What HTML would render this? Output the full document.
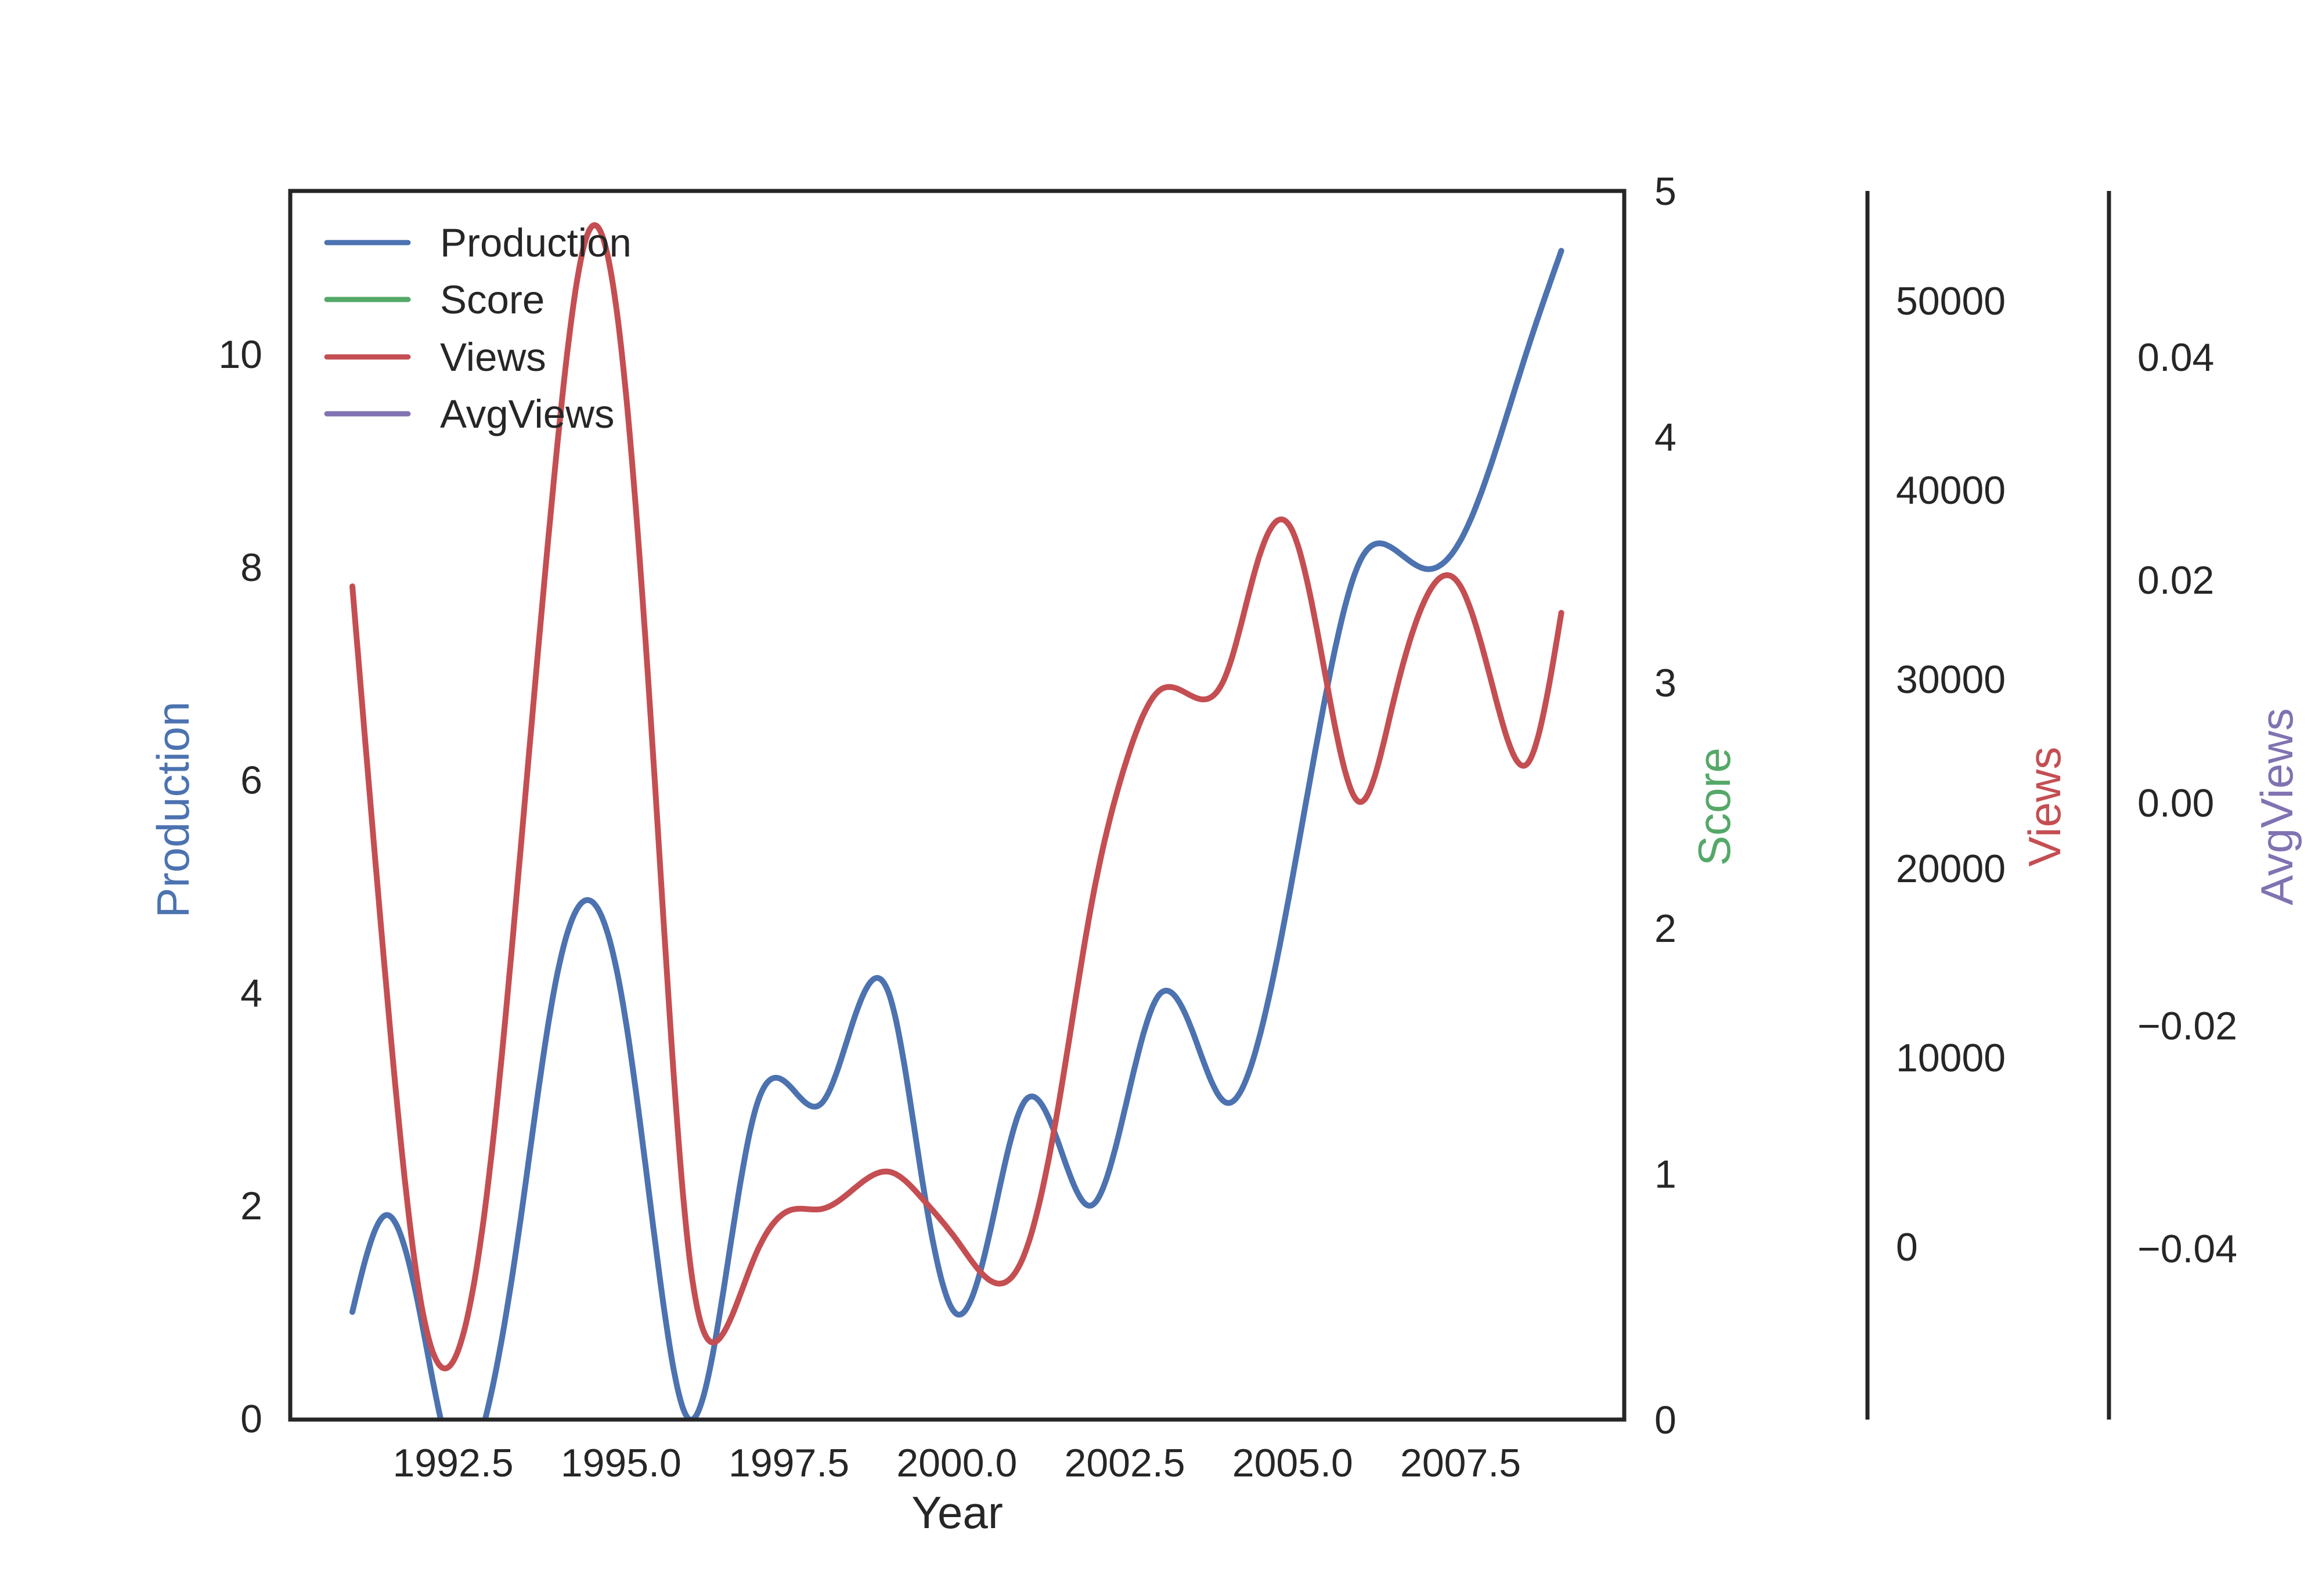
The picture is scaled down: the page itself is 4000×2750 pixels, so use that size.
<!DOCTYPE html>
<html><head><meta charset="utf-8"><style>
html,body{margin:0;padding:0;background:#fff}
svg{display:block}
text{font-family:"Liberation Sans",sans-serif;fill:#262626}
</style></head><body>
<svg id="chart" width="4000" height="2750" viewBox="0 0 4000 2750" xmlns="http://www.w3.org/2000/svg">
<defs><clipPath id="plotclip"><rect x="500" y="329" width="2298" height="2117"/></clipPath></defs>
<g id="lines" clip-path="url(#plotclip)"></g>
<rect x="500" y="329" width="2298" height="2117" fill="none" stroke="#262626" stroke-width="7"/>
<line x1="3217" y1="329" x2="3217" y2="2446" stroke="#262626" stroke-width="7"/>
<line x1="3633" y1="329" x2="3633" y2="2446" stroke="#262626" stroke-width="7"/>
<g id="ticks"></g>
<text x="1649" y="2633" font-size="78" text-anchor="middle">Year</text>
<text transform="translate(325,1395) rotate(-90)" font-size="78" text-anchor="middle" style="fill:#4C72B0">Production</text>
<text transform="translate(2980,1390) rotate(-90)" font-size="78" text-anchor="middle" style="fill:#55A868">Score</text>
<text transform="translate(3549,1390) rotate(-90)" font-size="78" text-anchor="middle" style="fill:#C44E52">Views</text>
<text transform="translate(3949,1390) rotate(-90)" font-size="78" text-anchor="middle" style="fill:#8172B2">AvgViews</text>
<g>
<line x1="563" y1="418" x2="703" y2="418" stroke="#4C72B0" stroke-width="9" stroke-linecap="round"/>
<text x="758" y="442" font-size="69">Production</text>
<line x1="563" y1="516" x2="703" y2="516" stroke="#55A868" stroke-width="9" stroke-linecap="round"/>
<text x="758" y="540" font-size="69">Score</text>
<line x1="563" y1="615" x2="703" y2="615" stroke="#C44E52" stroke-width="9" stroke-linecap="round"/>
<text x="758" y="639" font-size="69">Views</text>
<line x1="563" y1="713" x2="703" y2="713" stroke="#8172B2" stroke-width="9" stroke-linecap="round"/>
<text x="758" y="737" font-size="69">AvgViews</text>
</g>
</svg>
<script>
const years = [1991,1991.5,1992,1992.5,1993,1993.5,1994,1994.5,1995,1995.5,1996,1996.5,1997,1997.5,1998,1998.5,1999,1999.5,2000,2000.5,2001,2001.5,2002,2002.5,2003,2003.5,2004,2004.5,2005,2005.5,2006,2006.5,2007,2007.5,2008,2008.5,2009];
const production = [1,1.91,1.01,-0.4,0.05,1.85,4.01,4.87,4.0,1.7,0,1.1,2.9,3.13,2.97,3.81,3.97,2.18,0.98,1.77,2.97,2.61,2.0,2.9,3.97,3.65,2.97,3.57,5.09,6.82,8.05,8.17,7.98,8.25,9.05,10.05,10.97];
const views = [34900,13950,-2500,-6070,2700,20800,40500,53500,47600,24750,0,-4700,-460,1900,2000,3150,3950,2480,340,-1800,-460,7200,18000,25400,29350,29100,30150,36450,37800,29950,23500,28800,34400,34900,29300,25550,33500];
const xTicks = [1992.5,1995.0,1997.5,2000.0,2002.5,2005.0,2007.5];
const prodTicks = [0,2,4,6,8,10];
const scoreTicks = [0,1,2,3,4,5];
const viewsTicks = [0,10000,20000,30000,40000,50000];
const avgTicks = [-0.04,-0.02,0.00,0.02,0.04];

const NS="http://www.w3.org/2000/svg";
const xS = y => 607 + (y-1991)*115.7;
const prodY = v => 2444 - v*183.4;
const scoreY = v => 2446 - v*423.4;
const viewsY = v => 2148 - v*0.0326;
const avgY = v => 1383 - v*19200;

function spline(xs, ys){
  const n=xs.length, h=[], a=[], l=[1], mu=[0], z=[0], c=new Array(n).fill(0), b=[], d=[];
  for(let i=0;i<n-1;i++) h.push(xs[i+1]-xs[i]);
  for(let i=1;i<n-1;i++) a[i]=3/h[i]*(ys[i+1]-ys[i])-3/h[i-1]*(ys[i]-ys[i-1]);
  for(let i=1;i<n-1;i++){l[i]=2*(xs[i+1]-xs[i-1])-h[i-1]*mu[i-1];mu[i]=h[i]/l[i];z[i]=(a[i]-h[i-1]*z[i-1])/l[i];}
  l[n-1]=1;z[n-1]=0;
  for(let j=n-2;j>=0;j--){c[j]=z[j]-mu[j]*c[j+1];b[j]=(ys[j+1]-ys[j])/h[j]-h[j]*(c[j+1]+2*c[j])/3;d[j]=(c[j+1]-c[j])/(3*h[j]);}
  return t=>{let i=0;while(i<n-2&&t>xs[i+1])i++;const dx=t-xs[i];return ys[i]+b[i]*dx+c[i]*dx*dx+d[i]*dx*dx*dx;};
}
function drawLine(vals, sy, color, name){
  const f=spline(years, vals); let d="";
  for(let k=0;k<=900;k++){const t=years[0]+(years[years.length-1]-years[0])*k/900;d+=(k?"L":"M")+xS(t).toFixed(1)+","+sy(f(t)).toFixed(1);}
  const p=document.createElementNS(NS,"path");
  p.setAttribute("d",d);p.setAttribute("fill","none");p.setAttribute("stroke",color);p.setAttribute("stroke-width","10");p.setAttribute("stroke-linecap","round");p.setAttribute("stroke-linejoin","round");
  
  
  document.getElementById("lines").appendChild(p);
}
drawLine(production, prodY, "#4C72B0", "production-line");
drawLine(views, viewsY, "#C44E52", "views-line");

const tg=document.getElementById("ticks");
function label(x,y,txt,anchor,name){
  const t=document.createElementNS(NS,"text");
  t.setAttribute("x",x);t.setAttribute("y",y);t.setAttribute("font-size","68");t.setAttribute("text-anchor",anchor);
  t.textContent=txt;
  
  
  tg.appendChild(t);
}
xTicks.forEach(v=>label(xS(v),2544,v.toFixed(1),"middle","x-tick-label"));
prodTicks.forEach(v=>label(452,prodY(v)+24,String(v),"end","production-tick-label"));
scoreTicks.forEach(v=>label(2850,scoreY(v)+24,String(v),"start","score-tick-label"));
viewsTicks.forEach(v=>label(3266,viewsY(v)+24,String(v),"start","views-tick-label"));
avgTicks.forEach(v=>label(3682,avgY(v)+24,(v<0?"\u2212":"")+Math.abs(v).toFixed(2),"start","avgviews-tick-label"));
</script>
</body></html>
